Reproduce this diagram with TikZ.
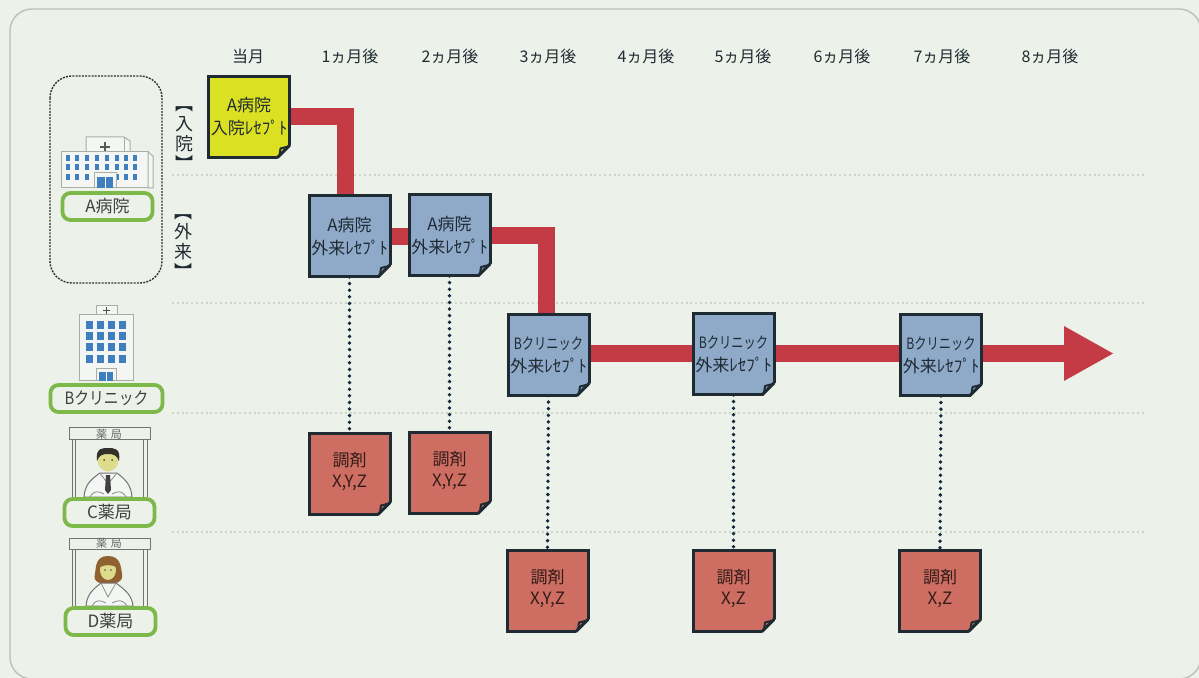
\documentclass[tikz,border=0pt]{standalone}
\usepackage{fontspec}
\usepackage{graphicx}
\setmainfont{Noto Sans CJK JP}
\usetikzlibrary{calc,arrows.meta}
\pgfdeclarelayer{base}
\pgfdeclarelayer{conn}
\pgfsetlayers{base,conn,main}
\definecolor{paper}{HTML}{ECF1E9}
\definecolor{framec}{HTML}{BCC1B6}
\definecolor{gridc}{HTML}{CDD3C6}
\definecolor{ink}{HTML}{1F2B32}
\definecolor{noteyellow}{HTML}{DCE022}
\definecolor{noteblue}{HTML}{8FA9C9}
\definecolor{notered}{HTML}{CE6E63}
\definecolor{flowred}{HTML}{C43A45}
\definecolor{glabel}{HTML}{7DB84A}
\definecolor{winblue}{HTML}{3F7FC0}
\definecolor{wall}{HTML}{F4F6F4}
\definecolor{wallline}{HTML}{A9AFA8}
\definecolor{face}{HTML}{DCDC8C}
\definecolor{dotc}{HTML}{14283C}
\newcommand\clinicname{\scalebox{.72}[.92]{Bクリニック}}
\tikzset{
  note/.style={draw=ink,line width=1.5pt,inner sep=0pt,outer sep=0pt,minimum width=40.5pt,minimum height=40.5pt,
    align=center,text=ink,font=\fontsize{8.5}{11.5}\selectfont},
  yellownote/.style={note,fill=noteyellow},
  bluenote/.style={note,fill=noteblue},
  rednote/.style={note,fill=notered,text=black!75!notered,font=\fontsize{8.5}{10.5}\selectfont},
  head/.style={text=ink,font=\fontsize{8}{10}\selectfont,inner sep=0pt},
  glab/.style={draw=glabel,line width=1.9pt,rounded corners=4pt,fill=paper,inner sep=0pt,outer sep=0pt,
    minimum height=13.5pt,text=black!75,font=\fontsize{8.5}{10}\selectfont},
  flow/.style={draw=flowred,line width=8.5pt,line join=miter},
  dotline/.style={draw=dotc,line width=1.9pt,line cap=round,dash pattern=on 0pt off 3.3pt},
  gridline/.style={draw=gridc,line width=.6pt,dash pattern=on 1pt off 1.4pt},
  sidelab/.style={text=ink,align=center,inner sep=0pt,font=\fontsize{9}{10}\selectfont},
  sign/.style={text=black!60,inner sep=0pt,font=\fontsize{5.5}{6}\selectfont},
  wallstyle/.style={draw=wallline,line width=.5pt,fill=wall},
  post/.style={draw=black!55,line width=.5pt},
}
\newcommand\notefold[2]{%
  \begin{scope}[shift={(#1.south east)}]
    \fill[paper] (-13,2.5) -- (2.5,2.5) -- (2.5,-13) -- cycle;
    \fill[#2] (-12,0) -- (-9,-9) -- (0,-12) -- cycle;
    \draw[ink,line width=1.5pt,line join=round] (-12,0) -- (0,-12);
    \draw[ink,line width=1pt,line join=round] (-10,-2) -- (-9,-9) -- (-1,-11);
  \end{scope}}
\begin{document}
\begin{tikzpicture}[x=0.5pt,y=-0.5pt]
\useasboundingbox (0,0) rectangle (1199,678);
\begin{pgfonlayer}{base}
  \fill[paper] (0,0) rectangle (1199,678);
  \draw[framec,line width=.7pt,rounded corners=11pt] (10,9) rectangle (1201,679);
  \foreach \yy in {175,303,413,532} \draw[gridline] (172,\yy) -- (1145,\yy);
\end{pgfonlayer}

% month headers
\node[head] (m0) at (248,56) {当月};
\node[head] (m1) at (350,56) {1ヵ月後};
\node[head] (m2) at (450,56) {2ヵ月後};
\node[head] (m3) at (548,56) {3ヵ月後};
\node[head] (m4) at (646,56) {4ヵ月後};
\node[head] (m5) at (743,56) {5ヵ月後};
\node[head] (m6) at (842,56) {6ヵ月後};
\node[head] (m7) at (942,56) {7ヵ月後};
\node[head] (m8) at (1050,56) {8ヵ月後};

% side brackets
\node[sidelab] (nyu) at (184,139) {︻\\入\\院\\︼};
\node[sidelab] (gai) at (183,247) {︻\\外\\来\\︼};

% dotted frame around hospital A
\draw[black!80,line width=.7pt,dash pattern=on 1pt off .6pt,rounded corners=11pt] (50,76) rectangle (162,283);

% hospital A icon
\draw[wallstyle] (86,152) -- (86,137) -- (124,137) -- (130,141) -- (130,152) -- cycle;
\draw[wallline,line width=.4pt] (124,137) -- (124,152);
\draw[black!65,line width=1.1pt] (100,147) -- (110,147) (105,142.5) -- (105,151.5);
\draw[wallstyle] (61,152) rectangle (148,188);
\draw[wallstyle] (148,152) -- (153,156) -- (153,188) -- (148,188) -- cycle;
\foreach \xx in {68,77,87,97,107,117,126,135} \foreach \yy in {158,167,177} {
  \fill[winblue] (\xx-2,\yy-3) rectangle (\xx+2,\yy+3);}
\draw[wallstyle] (94,173) rectangle (116,188);
\fill[winblue] (97,177) rectangle (113,188);
\draw[white,line width=.4pt] (105,177) -- (105,188);

% clinic B icon
\draw[wallstyle] (96,315) -- (96,306) -- (117,306) -- (117,315);
\draw[black!70,line width=.9pt] (103,310.5) -- (110,310.5) (106.5,307) -- (106.5,314);
\draw[wallstyle] (79,315) rectangle (133,381);
\foreach \xx in {89,100,111,122} \foreach \yy in {325,336,347,359} {
  \fill[winblue] (\xx-3.5,\yy-4) rectangle (\xx+3.5,\yy+4);}
\draw[wallstyle] (96,369) rectangle (116,381);
\fill[winblue] (99,372) rectangle (113,381);
\draw[white,line width=.4pt] (106,372) -- (106,381);

% pharmacy C
\draw[post,fill=paper] (69,428) rectangle (150,440);
\draw[post] (72,440) -- (72,497) (75,440) -- (75,497) (143,440) -- (143,497) (147,440) -- (147,497);
\node[sign] (signc) at (109,434) {薬\,\,局};
\draw[black!55,line width=.5pt,fill=wall] (84,497) .. controls (85,485) and (90,480) .. (100,473) -- (117,473) .. controls (126,480) and (131,485) .. (132,497) -- cycle;
\draw[black!45,line width=.4pt] (100,473) -- (108,484) -- (117,473);
\fill[black!75] (106,475) -- (110,475) -- (111,490) -- (108,494) -- (105,490) -- cycle;
\draw[black!45,line width=.4pt] (90,497) .. controls (94,490) and (98,491) .. (104,494) (126,497) .. controls (122,490) and (118,491) .. (112,494);
\fill[face] (108,460) ellipse [x radius=10.5,y radius=11.5];
\fill[black!85!olive] (97,461) .. controls (95,447) and (104,448) .. (108,448) .. controls (114,448) and (121,448) .. (119,461) .. controls (117,455) and (113,454) .. (108,454) .. controls (103,454) and (99,455) .. (97,461) -- cycle;
\fill[black!70] (104,460) circle [radius=1] (112,460) circle [radius=1];

% pharmacy D
\draw[post,fill=paper] (69,538) rectangle (150,549);
\draw[post] (72,549) -- (72,606) (75,549) -- (75,606) (143,549) -- (143,606) (147,549) -- (147,606);
\node[sign] (signd) at (109,543.5) {薬\,\,局};
\fill[brown!75!black] (108,556) .. controls (120,556) and (121,566) .. (122,574) .. controls (124,582) and (114,585) .. (108,583) .. controls (102,585) and (92,582) .. (95,574) .. controls (96,566) and (96,556) .. (108,556) -- cycle;
\draw[black!55,line width=.5pt,fill=wall] (86,606) .. controls (87,595) and (92,590) .. (101,583) -- (116,583) .. controls (125,590) and (132,595) .. (133,606) -- cycle;
\draw[black!45,line width=.4pt] (101,583) -- (108,597) -- (116,583);
\draw[black!45,line width=.4pt] (92,606) .. controls (96,599) and (100,600) .. (106,603) (127,606) .. controls (123,599) and (118,600) .. (112,603);
\fill[face] (108,570) ellipse [x radius=8,y radius=10];
\fill[brown!75!black] (100,567) .. controls (101,560) and (106,560) .. (108,560) .. controls (112,560) and (116,562) .. (116,567) .. controls (112,565) and (106,564) .. (100,567) -- cycle;
\fill[black!70] (105,570) circle [radius=.9] (111,570) circle [radius=.9];

% green labels
\node[glab,minimum width=45pt] (la) at (107.5,206.5) {A病院};
\node[glab,minimum width=56pt] (lb) at (106.5,398.5) {\scalebox{.87}[1]{Bクリニック}};
\node[glab,minimum width=45pt] (lc) at (109.5,512.5) {C薬局};
\node[glab,minimum width=45pt] (ld) at (110.5,621.5) {D薬局};

% note boxes
\node[yellownote] (y1) at (249,117) {A病院\\入院ﾚｾﾌﾟﾄ};
\node[bluenote] (b1) at (349.5,236.5) {A病院\\外来ﾚｾﾌﾟﾄ};
\node[bluenote] (b2) at (449.5,235.5) {A病院\\外来ﾚｾﾌﾟﾄ};
\node[bluenote] (b3) at (548.5,355) {\clinicname\\外来ﾚｾﾌﾟﾄ};
\node[bluenote] (b4) at (733.5,354.5) {\clinicname\\外来ﾚｾﾌﾟﾄ};
\node[bluenote] (b5) at (941,355.5) {\clinicname\\外来ﾚｾﾌﾟﾄ};
\node[rednote] (r1) at (349.5,474) {調剤\\X,Y,Z\\[-6pt]\mbox{}};
\node[rednote] (r2) at (449.5,473) {調剤\\X,Y,Z\\[-6pt]\mbox{}};
\node[rednote] (r3) at (547.5,591) {調剤\\X,Y,Z\\[-6pt]\mbox{}};
\node[rednote] (r4) at (733.5,591) {調剤\\X,Z\\[-6pt]\mbox{}};
\node[rednote] (r5) at (940,591) {調剤\\X,Z\\[-6pt]\mbox{}};
\notefold{y1}{noteyellow}
\notefold{b1}{noteblue}
\notefold{b2}{noteblue}
\notefold{b3}{noteblue}
\notefold{b4}{noteblue}
\notefold{b5}{noteblue}
\notefold{r1}{notered}
\notefold{r2}{notered}
\notefold{r3}{notered}
\notefold{r4}{notered}
\notefold{r5}{notered}

\coordinate (tip) at (1114,353.5);

\begin{pgfonlayer}{conn}
  \draw[flow] (y1.east) -| ($(b1.north)+(-4,0)$);
  \draw[flow] (b1.east) -- (b1.east -| b2.west);
  \draw[flow] (b2.east) -| ($(b3.north)+(-2,0)$);
  \draw[flow] (b3.east |- tip) -- (b4.west |- tip);
  \draw[flow] (b4.east |- tip) -- (b5.west |- tip);
  \draw[flow,-{Triangle[length=25pt,width=25.5pt]}] (b5.east |- tip) -- (tip);
  \draw[dotline] (b1.south) -- (r1.north);
  \draw[dotline] (b2.south) -- (r2.north);
  \draw[dotline] (b3.south) -- (r3.north);
  \draw[dotline] (b4.south) -- (r4.north);
  \draw[dotline] (b5.south) -- (r5.north);
\end{pgfonlayer}
\end{tikzpicture}
\end{document}
